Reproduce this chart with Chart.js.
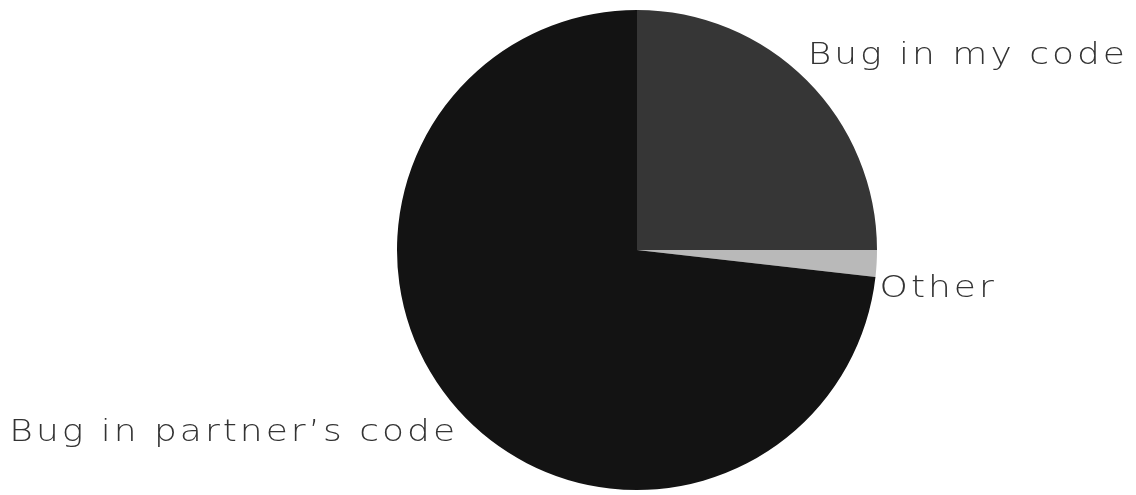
<!DOCTYPE html>
<html>
<head>
<meta charset="utf-8">
<script src="https://cdn.jsdelivr.net/npm/chart.js@4/dist/chart.umd.min.js"></script>
<style>
    html, body { margin: 0; padding: 0; background: #ffffff; }
    #chart_box { width: 1136px; height: 495px; position: relative; }
</style>
</head>
<body>
<div id="chart_box"><canvas id="pie_canvas"></canvas></div>
<script>
// slices go clockwise from 12 o'clock
const slice_labels = ["Bug in my code", "Other", "Bug in partner\u2019s code"];
const slice_values = [25, 1.8, 73.2];
const slice_colors = ["#363636", "#b9b9b9", "#131313"];

// label nudges relative to a point at 1.1 x radius on the slice's middle angle
const label_nudges = [[-16, 1], [-21, 32], [18, 15]];

document.addEventListener("DOMContentLoaded", ()=>{
    initialize_page();
});

function initialize_page(){
    let canvas = document.getElementById("pie_canvas");
    new_pie_chart(canvas, slice_labels, slice_values, slice_colors);
}

const outside_labels = {
    id: "outside_labels",
    afterDraw(chart){
        let ctx = chart.ctx;
        let arcs = chart.getDatasetMeta(0).data;
        arcs.forEach((arc, i)=>{
            let mid = (arc.startAngle + arc.endAngle) / 2;
            let r = arc.outerRadius * 1.1;
            let x = arc.x + Math.cos(mid) * r + label_nudges[i][0];
            let y = arc.y + Math.sin(mid) * r + label_nudges[i][1];
            ctx.save();
            ctx.font = '200 30px "DejaVu Sans"';
            ctx.letterSpacing = "2.5px";
            ctx.fillStyle = "#333333";
            ctx.textBaseline = "alphabetic";
            ctx.textAlign = Math.cos(mid) >= 0 ? "left" : "right";
            // the original lettering is wider than DejaVu, so stretch it a bit
            ctx.translate(x, y);
            ctx.scale(1.2, 1);
            ctx.fillText(chart.data.labels[i], 0, 0);
            ctx.restore();
        });
    }
};

function new_pie_chart(canvas, labels, values, colors){
    let chart_data = {
        labels: labels,
        datasets: [{
            data: values,
            backgroundColor: colors,
            borderWidth: 0
        }]
    };

    return new Chart(canvas, {
        type: "pie",
        data: chart_data,
        options: {
            responsive: true,
            maintainAspectRatio: false,
            animation: false,
            layout: { padding: { left: 138, right: 0, top: 10, bottom: 5 } },
            plugins: {
                legend: { display: false },
                tooltip: { enabled: false }
            }
        },
        plugins: [outside_labels]
    });
}
</script>
</body>
</html>
